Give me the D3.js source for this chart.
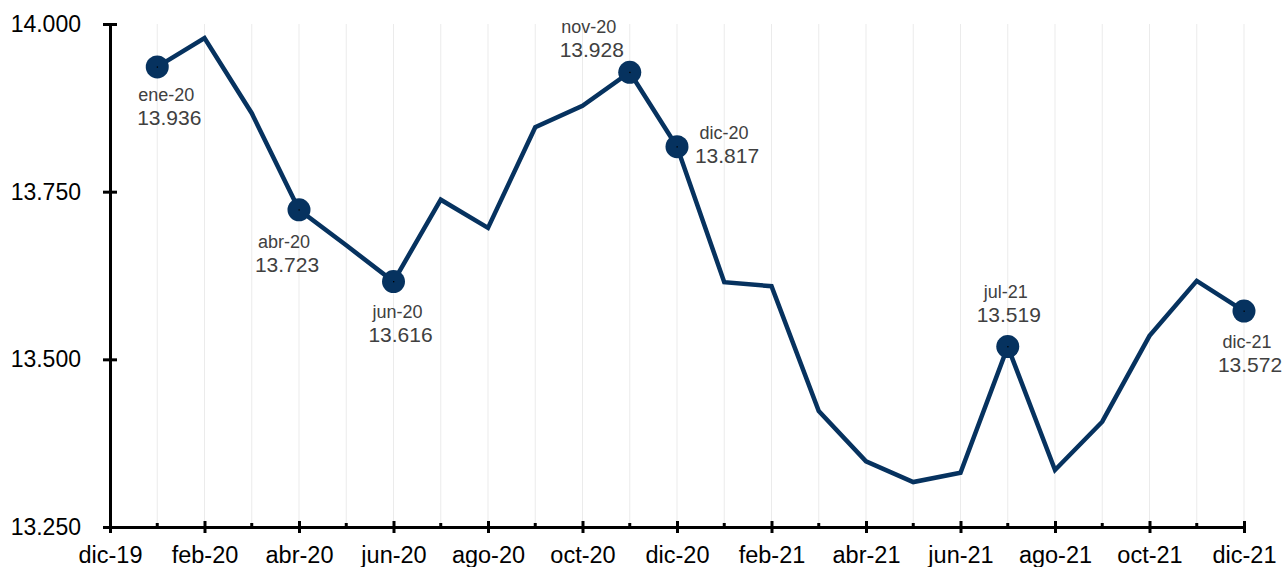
<!DOCTYPE html>
<html>
<head>
<meta charset="utf-8">
<script src="https://cdn.jsdelivr.net/npm/d3@7"></script>
<style>
  body { margin: 0; background: #fff; }
  svg { display: block; font-family: "Liberation Sans", Arial, sans-serif; }
</style>
</head>
<body>
<svg class="canvas" width="1284" height="567"></svg>
<script>
// months from dic-19 to dic-21
const months = ["dic-19", "ene-20", "feb-20", "mar-20", "abr-20", "may-20", "jun-20",
  "jul-20", "ago-20", "sep-20", "oct-20", "nov-20", "dic-20", "ene-21", "feb-21",
  "mar-21", "abr-21", "may-21", "jun-21", "jul-21", "ago-21", "sep-21", "oct-21",
  "nov-21", "dic-21"];
// series values (starts at ene-20)
const values = [13.936, 13.979, 13.867, 13.723, 13.670, 13.616, 13.738, 13.696,
  13.846, 13.878, 13.928, 13.817, 13.615, 13.609, 13.423, 13.348, 13.317, 13.331,
  13.519, 13.335, 13.407, 13.535, 13.617, 13.572];
const yTicks = [13.25, 13.5, 13.75, 14.0];
// highlighted points
const highlights = ["ene-20", "abr-20", "jun-20", "nov-20", "dic-20", "jul-21", "dic-21"];

const data = values.map((v, i) => ({ month: months[i + 1], idx: i + 1, value: v }));

const svg = d3.select(".canvas");
const plotLeft = 110, plotRight = 1244, plotTop = 24, plotBottom = 527;

const xScale = d3.scaleLinear().domain([0, months.length - 1]).range([plotLeft, plotRight]);
const yScale = d3.scaleLinear().domain([13.25, 14.0]).range([plotBottom, plotTop]);

// vertical gridlines
svg.append("g")
  .selectAll("line")
  .data(d3.range(1, months.length))
  .enter()
  .append("line")
  .attr("x1", (d) => xScale(d))
  .attr("x2", (d) => xScale(d))
  .attr("y1", plotTop)
  .attr("y2", plotBottom)
  .attr("stroke", "#ebebeb")
  .attr("stroke-width", 1);

// y axis
const yAxis = d3.axisLeft(yScale)
  .tickValues(yTicks)
  .tickFormat((d) => d3.format(".3f")(d))
  .tickSizeInner(7)
  .tickSizeOuter(0)
  .tickPadding(22);
const gy = svg.append("g")
  .attr("transform", `translate(${plotLeft}, 0)`)
  .call(yAxis);
gy.select(".domain").attr("stroke", "#000").attr("stroke-width", 3);
gy.selectAll(".tick line").attr("stroke", "#000").attr("stroke-width", 3).attr("x2", -7).attr("x1", 7);
gy.selectAll(".tick text").style("font-size", "23px").attr("fill", "#000");

// x axis: major ticks labelled every two months
const xAxis = d3.axisBottom(xScale)
  .tickValues(d3.range(0, months.length, 2))
  .tickFormat((d) => months[d])
  .tickSizeInner(6)
  .tickSizeOuter(0)
  .tickPadding(13);
const gx = svg.append("g")
  .attr("transform", `translate(0, ${plotBottom})`)
  .call(xAxis);
gx.select(".domain").attr("stroke", "#000").attr("stroke-width", 3);
gx.selectAll(".tick line").attr("stroke", "#000").attr("stroke-width", 3).attr("y1", -6).attr("y2", 6);
gx.selectAll(".tick text").style("font-size", "23.5px").attr("fill", "#000");

// minor ticks
gx.append("g")
  .selectAll("line")
  .data(d3.range(1, months.length, 2))
  .enter()
  .append("line")
  .attr("x1", (d) => xScale(d))
  .attr("x2", (d) => xScale(d))
  .attr("y1", -4)
  .attr("y2", 0)
  .attr("stroke", "#000")
  .attr("stroke-width", 3);

// line
const line = d3.line()
  .x((d) => xScale(d.idx))
  .y((d) => yScale(d.value));
svg.append("path")
  .datum(data)
  .attr("d", line)
  .attr("fill", "none")
  .attr("stroke", "#06325f")
  .attr("stroke-width", 4.5)
  .attr("stroke-linejoin", "miter");

// markers
const hi = data.filter((d) => highlights.includes(d.month));
svg.selectAll("circle.dot")
  .data(hi)
  .enter()
  .append("circle")
  .attr("class", "dot")
  .attr("cx", (d) => xScale(d.idx))
  .attr("cy", (d) => yScale(d.value))
  .attr("r", 11.5)
  .attr("fill", "#06325f");
svg.selectAll("rect.center")
  .data(hi)
  .enter()
  .append("rect")
  .attr("class", "center")
  .attr("x", (d) => xScale(d.idx) - 0.5)
  .attr("y", (d) => yScale(d.value) - 0.5)
  .attr("width", 1.3)
  .attr("height", 1.3)
  .attr("fill", "#000");

// labels: offset from the point (label centre x, month baseline y)
const labelOffset = {
  "ene-20": [9, 34],
  "abr-20": [-15, 38],
  "jun-20": [4, 36],
  "nov-20": [-41, -39],
  "dic-20": [47, -8],
  "jul-21": [-2, -49],
  "dic-21": [3, 37]
};
const labels = svg.selectAll("g.lbl")
  .data(hi)
  .enter()
  .append("g")
  .attr("class", "lbl")
  .attr("transform", (d) => {
    const o = labelOffset[d.month];
    return `translate(${xScale(d.idx) + o[0]}, ${yScale(d.value) + o[1]})`;
  })
  .attr("text-anchor", "middle")
  .attr("fill", "#404040");
labels.append("text")
  .style("font-size", "18px")
  .text((d) => d.month);
labels.append("text")
  .attr("x", 3)
  .attr("y", 24)
  .style("font-size", "21px")
  .text((d) => d3.format(".3f")(d.value));
</script>
</body>
</html>
